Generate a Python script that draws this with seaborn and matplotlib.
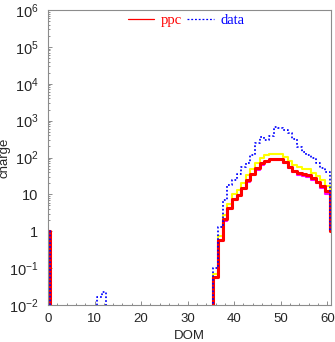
import numpy as np
import pandas as pd
import matplotlib
matplotlib.use("Agg")
import matplotlib.pyplot as plt
from matplotlib.lines import Line2D
from matplotlib.ticker import FixedLocator, FixedFormatter, MultipleLocator, LogLocator, NullFormatter
import seaborn as sns

# ---- charge per DOM bin (bins centred on integer DOM numbers 0..61) ----
n_bins = 62
edge_doms = [0, 61]
edge_charge = [1.0, 1.0]

peak_doms = list(range(36, 61))
ppc_charge = [0.058, 0.58, 2.1, 4.2, 7.6, 9.8, 15, 24, 36, 51, 70, 82, 89,
              90, 89, 76, 56, 44, 38, 35, 33, 27, 22, 17, 12]
ppc_high_charge = [0.07, 0.75, 2.8, 5.6, 10, 13, 20, 33, 50, 70, 98, 115, 125,
                   126, 124, 105, 78, 62, 54, 50, 48, 39, 31, 24, 17]
ppc_low_charge = [0.055, 0.55, 1.9, 3.9, 7.0, 9.0, 14, 22, 33, 47, 64, 76, 84,
                  85, 84, 70, 51, 40, 34, 32, 30, 25, 20, 15, 10.5]
data_charge = [0.099, 1.3, 7, 18, 24.5, 36, 55, 72, 115, 243, 350, 298, 383,
               685, 645, 557, 453, 311, 193, 144, 117, 95, 71, 52, 41]
data_extra_doms = [11, 12]
data_extra_charge = [0.017, 0.022]

x_ticks = [0, 10, 20, 30, 40, 50, 60]
y_ticks = [1e-2, 1e-1, 1, 10, 1e2, 1e3, 1e4, 1e5, 1e6]
y_labels = [r"$\mathregular{10^{-2}}$", r"$\mathregular{10^{-1}}$", "1", "10",
            r"$\mathregular{10^{2}}$", r"$\mathregular{10^{3}}$",
            r"$\mathregular{10^{4}}$", r"$\mathregular{10^{5}}$",
            r"$\mathregular{10^{6}}$"]


def binned(peak, extra_doms=(), extra=()):
    charge = np.zeros(n_bins)
    charge[edge_doms] = edge_charge
    charge[peak_doms] = peak
    if len(extra_doms):
        charge[list(extra_doms)] = extra
    return charge


def step_frame(charge, floor=1e-3):
    # left bin edges plus the closing edge; empty bins sit below the axis
    left = np.arange(n_bins) - 0.5
    x = np.append(left, left[-1] + 1.0)
    y = np.append(np.where(charge > 0, charge, floor), floor)
    return pd.DataFrame({"DOM": x, "charge": y})


sns.set_style("white")
plt.rcParams["font.family"] = ["Liberation Sans", "DejaVu Sans"]
plt.rcParams["mathtext.fontset"] = "custom"
plt.rcParams["mathtext.rm"] = "Liberation Sans"
plt.rcParams["mathtext.it"] = "Liberation Sans:italic"
plt.rcParams["mathtext.bf"] = "Liberation Sans:bold"

fig = plt.figure(figsize=(3.35, 3.42), dpi=100)
fig.patch.set_facecolor("white")
ax = fig.add_axes([48 / 335, 37 / 342, 283 / 335, 295 / 342])

series = [
    (binned(ppc_high_charge), "#ffff00", 1.5, "-"),
    (binned(ppc_low_charge), "#ff00ff", 1.5, "-"),
    (binned(ppc_charge), "#ff0000", 2.2, "-"),
    (binned(data_charge, data_extra_doms, data_extra_charge), "#0000ff", 1.25, (0, (1, 1.2))),
]
for charge, color, lw, ls in series:
    sns.lineplot(data=step_frame(charge), x="DOM", y="charge", ax=ax,
                 color=color, lw=lw, linestyle=ls, drawstyle="steps-post",
                 estimator=None, legend=False)

ax.set_yscale("log")
ax.set_xlim(0, 60.8)
ax.set_ylim(1e-2, 1e6)

ax.xaxis.set_major_locator(FixedLocator(x_ticks))
ax.xaxis.set_minor_locator(MultipleLocator(2))
ax.yaxis.set_major_locator(FixedLocator(y_ticks))
ax.yaxis.set_major_formatter(FixedFormatter(y_labels))
ax.yaxis.set_minor_locator(LogLocator(base=10, subs=np.arange(2, 10)))
ax.yaxis.set_minor_formatter(NullFormatter())

axis_grey = "#8c8c8c"
for side in ax.spines.values():
    side.set_color(axis_grey)
    side.set_linewidth(0.8)
ax.tick_params(which="both", direction="in", color=axis_grey, width=0.7,
               bottom=True, left=True, top=False, right=False)
ax.tick_params(which="major", length=2.6)
ax.tick_params(which="minor", length=1.3)
ax.tick_params(axis="x", which="major", labelsize=9.5, pad=5.5)
ax.tick_params(axis="y", which="major", labelsize=10.5, pad=7)

ax.set_xlabel("DOM", fontsize=9.5)
ax.set_ylabel("charge", fontsize=9.5)
ax.xaxis.set_label_coords(0.5, (305 - 330) / 295)
ax.yaxis.set_label_coords((10.5 - 48) / 283, 0.5)

handles = [Line2D([], [], color="#ff0000", lw=0.9),
           Line2D([], [], color="#0000ff", lw=0.9, linestyle=(0, (1.5, 1.5)))]
leg = ax.legend(handles, ["ppc", "data"], loc="center",
                bbox_to_anchor=(186 / 335, 1 - 20.5 / 342),
                bbox_transform=fig.transFigure, ncol=2, frameon=False,
                prop={"family": "Liberation Serif", "size": 10.5},
                handlelength=1.8, handletextpad=0.45, columnspacing=0.4,
                borderpad=0, borderaxespad=0)
for text, color in zip(leg.get_texts(), ["#ff0000", "#0000ff"]):
    text.set_color(color)

fig.savefig("out.png", dpi=100, facecolor="white")
